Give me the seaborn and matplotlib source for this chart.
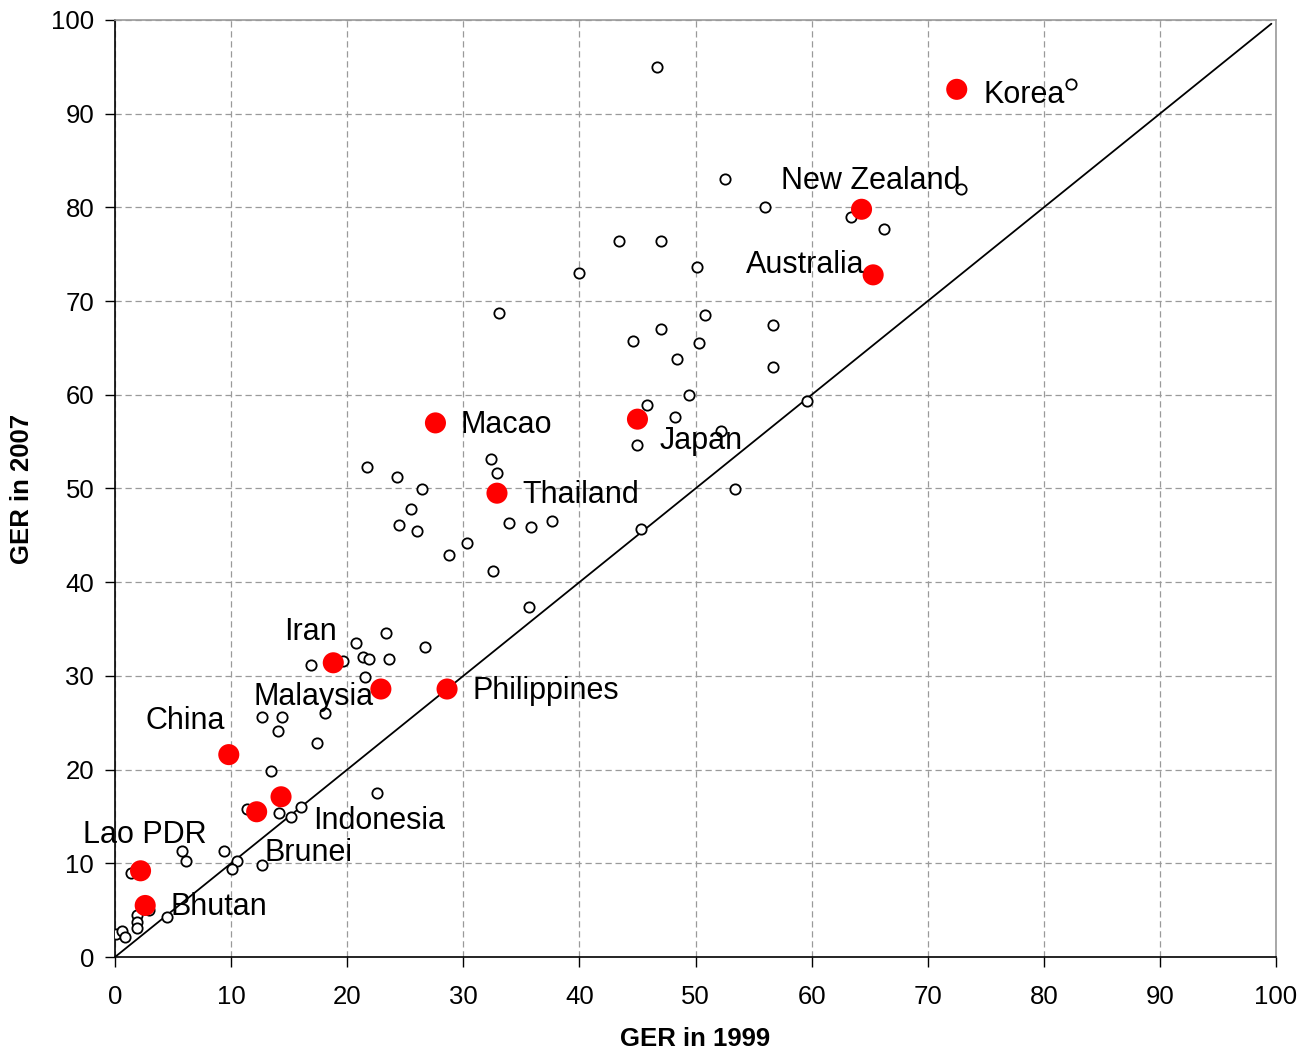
import matplotlib
matplotlib.use("Agg")
import matplotlib.pyplot as plt
import seaborn as sns
import pandas as pd

# Other countries (open circles)
other_1999 = [46.7, 82.3, 52.5, 56.0, 63.4, 72.9, 66.2, 43.4, 47.0, 40.0, 50.1, 33.1, 50.8, 56.7,
              47.0, 44.6, 50.3, 48.4, 56.7, 49.4, 45.8, 59.6, 48.2, 52.2, 45.0, 53.4, 45.3,
              21.7, 24.3, 26.4, 32.4, 32.9, 25.5, 24.5, 26.0, 33.9, 35.8, 37.6, 28.8, 30.3, 32.6, 35.7,
              23.3, 20.8, 26.7, 16.9, 19.6, 21.4, 21.9, 23.6, 21.5, 18.1, 12.7, 14.4, 14.0, 17.4,
              13.4, 22.6, 11.4, 14.1, 16.0, 15.2, 5.8, 6.1, 9.4, 10.5, 10.1, 12.7, 1.4, 2.9,
              1.9, 1.9, 1.9, 4.5, 0.1, 0.6, 0.9]
other_2007 = [95.0, 93.2, 83.0, 80.0, 79.0, 82.0, 77.7, 76.4, 76.4, 73.0, 73.6, 68.7, 68.5, 67.4,
              67.0, 65.7, 65.5, 63.8, 63.0, 60.0, 58.9, 59.3, 57.6, 56.1, 54.6, 49.9, 45.7,
              52.3, 51.2, 49.9, 53.1, 51.7, 47.8, 46.1, 45.5, 46.3, 45.9, 46.5, 42.9, 44.2, 41.2, 37.4,
              34.6, 33.5, 33.1, 31.2, 31.6, 32.0, 31.8, 31.8, 29.9, 26.0, 25.6, 25.6, 24.1, 22.8,
              19.9, 17.5, 15.8, 15.4, 16.0, 14.9, 11.3, 10.2, 11.3, 10.2, 9.4, 9.8, 9.0, 5.0,
              4.5, 3.7, 3.1, 4.3, 2.5, 2.8, 2.1]

# Highlighted countries (red dots)
hl_names = ["Korea", "New Zealand", "Australia", "Macao", "Japan", "Thailand", "Iran",
            "Malaysia", "Philippines", "China", "Indonesia", "Brunei", "Lao PDR", "Bhutan"]
hl_1999 = [72.5, 64.3, 65.3, 27.6, 45.0, 32.9, 18.8, 22.9, 28.6, 9.8, 14.3, 12.2, 2.2, 2.6]
hl_2007 = [92.6, 79.8, 72.8, 57.0, 57.4, 49.5, 31.4, 28.6, 28.6, 21.6, 17.1, 15.5, 9.2, 5.5]

# Label placement (left edge x, centre y) in data units
label_x = [74.8, 57.4, 54.3, 29.8, 46.9, 35.1, 14.6, 11.9, 30.8, 2.6, 17.1, 12.9, -2.8, 4.8]
label_y = [92.0, 82.8, 73.8, 56.8, 55.1, 49.3, 34.7, 27.8, 28.4, 25.2, 14.5, 11.1, 13.0, 5.3]

x_ticks = [0, 10, 20, 30, 40, 50, 60, 70, 80, 90, 100]
y_ticks = [0, 10, 20, 30, 40, 50, 60, 70, 80, 90, 100]

df_other = pd.DataFrame({"x": other_1999, "y": other_2007})
df_hl = pd.DataFrame({"x": hl_1999, "y": hl_2007, "name": hl_names})

sns.set_style("white")
plt.rcParams["font.family"] = ["Liberation Sans", "DejaVu Sans"]
plt.rcParams["text.color"] = "black"
plt.rcParams["axes.labelcolor"] = "black"
plt.rcParams["xtick.color"] = "black"
plt.rcParams["ytick.color"] = "black"

fig = plt.figure(figsize=(13.01, 10.52), dpi=100)
ax = fig.add_axes([0.0884, 0.0903, 0.8924, 0.8907])

ax.set_xlim(0, 100)
ax.set_ylim(0, 100)
ax.set_xticks(x_ticks)
ax.set_yticks(y_ticks)

ax.grid(True, color="#9a9a9a", linestyle=(0, (5, 3)), linewidth=0.9)
ax.set_axisbelow(True)

ax.plot([0, 99.6], [0, 99.6], color="black", linewidth=1.3, zorder=2)

sns.scatterplot(data=df_other, x="x", y="y", ax=ax, s=55, facecolor="white",
                edgecolor="black", linewidth=1.3, zorder=3)
sns.scatterplot(data=df_hl, x="x", y="y", ax=ax, s=230, color="#ff0000",
                edgecolor="none", zorder=4)

for name, lx, ly in zip(hl_names, label_x, label_y):
    ax.text(lx, ly, name, fontsize=22, ha="left", va="center", color="black", zorder=5)

for side in ["left", "bottom"]:
    ax.spines[side].set_color("black")
    ax.spines[side].set_linewidth(1.2)
for side in ["top", "right"]:
    ax.spines[side].set_color("#9a9a9a")
    ax.spines[side].set_linewidth(1.2)

ax.tick_params(axis="both", which="major", labelsize=18.5, direction="out",
               length=7, width=1, color="black", left=True, bottom=True, labelcolor="black")
ax.tick_params(axis="x", pad=13)
ax.tick_params(axis="y", pad=8)
ax.set_xlabel("GER in 1999", fontsize=18.5, fontweight="bold", labelpad=13, color="black")
ax.set_ylabel("GER in 2007", fontsize=18.5, fontweight="bold", labelpad=12, color="black")

fig.savefig("out.png", dpi=100)
